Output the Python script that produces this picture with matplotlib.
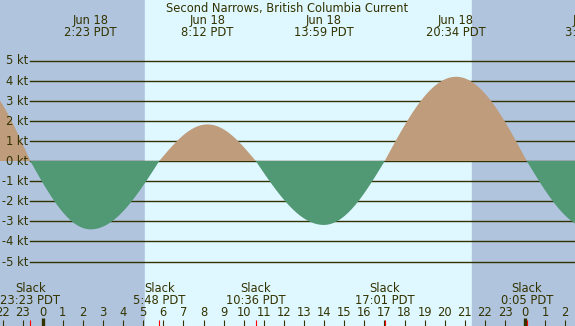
import matplotlib
matplotlib.use("Agg")
import matplotlib.pyplot as plt
import matplotlib.transforms as mtransforms
import numpy as np

# events (hours since Jun 18 00:00 PDT), knots
turn_times = [-3.5, -0.617, 2.383, 5.8, 8.2, 10.6, 13.983, 17.017, 20.567, 24.083, 27.28]
turn_values = [4.1, 0.0, -3.4, 0.0, 1.82, 0.0, -3.18, 0.0, 4.19, 0.0, -3.36]

max_times = [2.383, 8.2, 13.983, 20.567, 27.28]
max_labels = ["Jun 18\n2:23 PDT", "Jun 18\n8:12 PDT", "Jun 18\n13:59 PDT",
              "Jun 18\n20:34 PDT", "Jun 19\n3:17 PDT"]
slack_times = [-0.617, 5.8, 10.6, 17.017, 24.083]
slack_labels = ["Slack\n23:23 PDT", "Slack\n5:48 PDT", "Slack\n10:36 PDT",
                "Slack\n17:01 PDT", "Slack\n0:05 PDT"]
sunrise, sunset = 5.09, 21.36
kt_levels = [5, 4, 3, 2, 1, 0, -1, -2, -3, -4, -5]
title = "Second Narrows, British Columbia Current"

W, H = 575, 326
x0_px, px_hr = 42.7, 20.1
y0_px, px_kt = 161, 20.1
xmin = -x0_px / px_hr
xmax = (W - x0_px) / px_hr
ymax = y0_px / px_kt
ymin = (y0_px - H) / px_kt

night = "#B0C4DE"
day = "#DFF7FF"
flood = "#BF9C7C"
ebb = "#519874"
ink = "#333300"

fig = plt.figure(figsize=(W / 100, H / 100), dpi=100)
ax = fig.add_axes([0, 0, 1, 1])
ax.set_xlim(xmin, xmax)
ax.set_ylim(ymin, ymax)
ax.axis("off")

# background: night / day
ax.axvspan(xmin, sunrise, color=night, zorder=0)
ax.axvspan(sunrise, sunset, color=day, zorder=0)
ax.axvspan(sunset, xmax, color=night, zorder=0)

# curve: quarter-sine shape between slack and max
t = np.linspace(xmin, xmax, 1200)
v = np.zeros_like(t)
for i in range(len(turn_times) - 1):
    ta, tb = turn_times[i], turn_times[i + 1]
    va, vb = turn_values[i], turn_values[i + 1]
    m = (t >= ta) & (t <= tb)
    f = (t[m] - ta) / (tb - ta)
    if va == 0:
        v[m] = vb * np.sin(f * np.pi / 2)
    else:
        v[m] = va * np.cos(f * np.pi / 2)

xline0 = (30 - x0_px) / px_hr
for k in kt_levels:
    ax.plot([xline0, xmax], [k, k], color=ink, lw=1.0, zorder=1)
    ax.text(xline0 - 2 / px_hr, k - 4 / px_kt, f"{k} kt", ha="right", va="baseline",
            fontsize=8.3, color=ink)

ax.fill_between(t, 0, v, where=v >= 0, color=flood, lw=0, zorder=2, interpolate=True)
ax.fill_between(t, 0, v, where=v <= 0, color=ebb, lw=0, zorder=2, interpolate=True)

trans = mtransforms.blended_transform_factory(ax.transData, fig.transFigure)

def fy(px):
    return 1 - px / H

fig.text(0.5, fy(12), title, ha="center", va="baseline", fontsize=8.3, color=ink)
for tm, lab in zip(max_times, max_labels):
    a, b = lab.split("\n")
    ax.text(tm, fy(24), a, transform=trans, ha="center", va="baseline", fontsize=8.3, color=ink)
    ax.text(tm, fy(36), b, transform=trans, ha="center", va="baseline", fontsize=8.3, color=ink)
for tm, lab in zip(slack_times, slack_labels):
    a, b = lab.split("\n")
    ax.text(tm, fy(292), a, transform=trans, ha="center", va="baseline", fontsize=8.3, color=ink)
    ax.text(tm, fy(304), b, transform=trans, ha="center", va="baseline", fontsize=8.3, color=ink)

# hour ticks
for h in range(-2, 27):
    ax.text(h, fy(315.5), str(h % 24), transform=trans, ha="center", va="baseline",
            fontsize=8.3, color=ink)
    if h % 24 == 0:
        ax.plot([h, h], [fy(318), fy(326)], transform=trans, color=ink, lw=2.4,
                solid_capstyle="butt", zorder=3)
    else:
        ax.plot([h, h], [fy(320), fy(326)], transform=trans, color=ink, lw=0.8,
                solid_capstyle="butt", zorder=3)
for tm in slack_times:
    ax.plot([tm, tm], [fy(320), fy(326)], transform=trans, color="red", lw=0.8,
            solid_capstyle="butt", zorder=4)

fig.savefig("out.png", dpi=100)
